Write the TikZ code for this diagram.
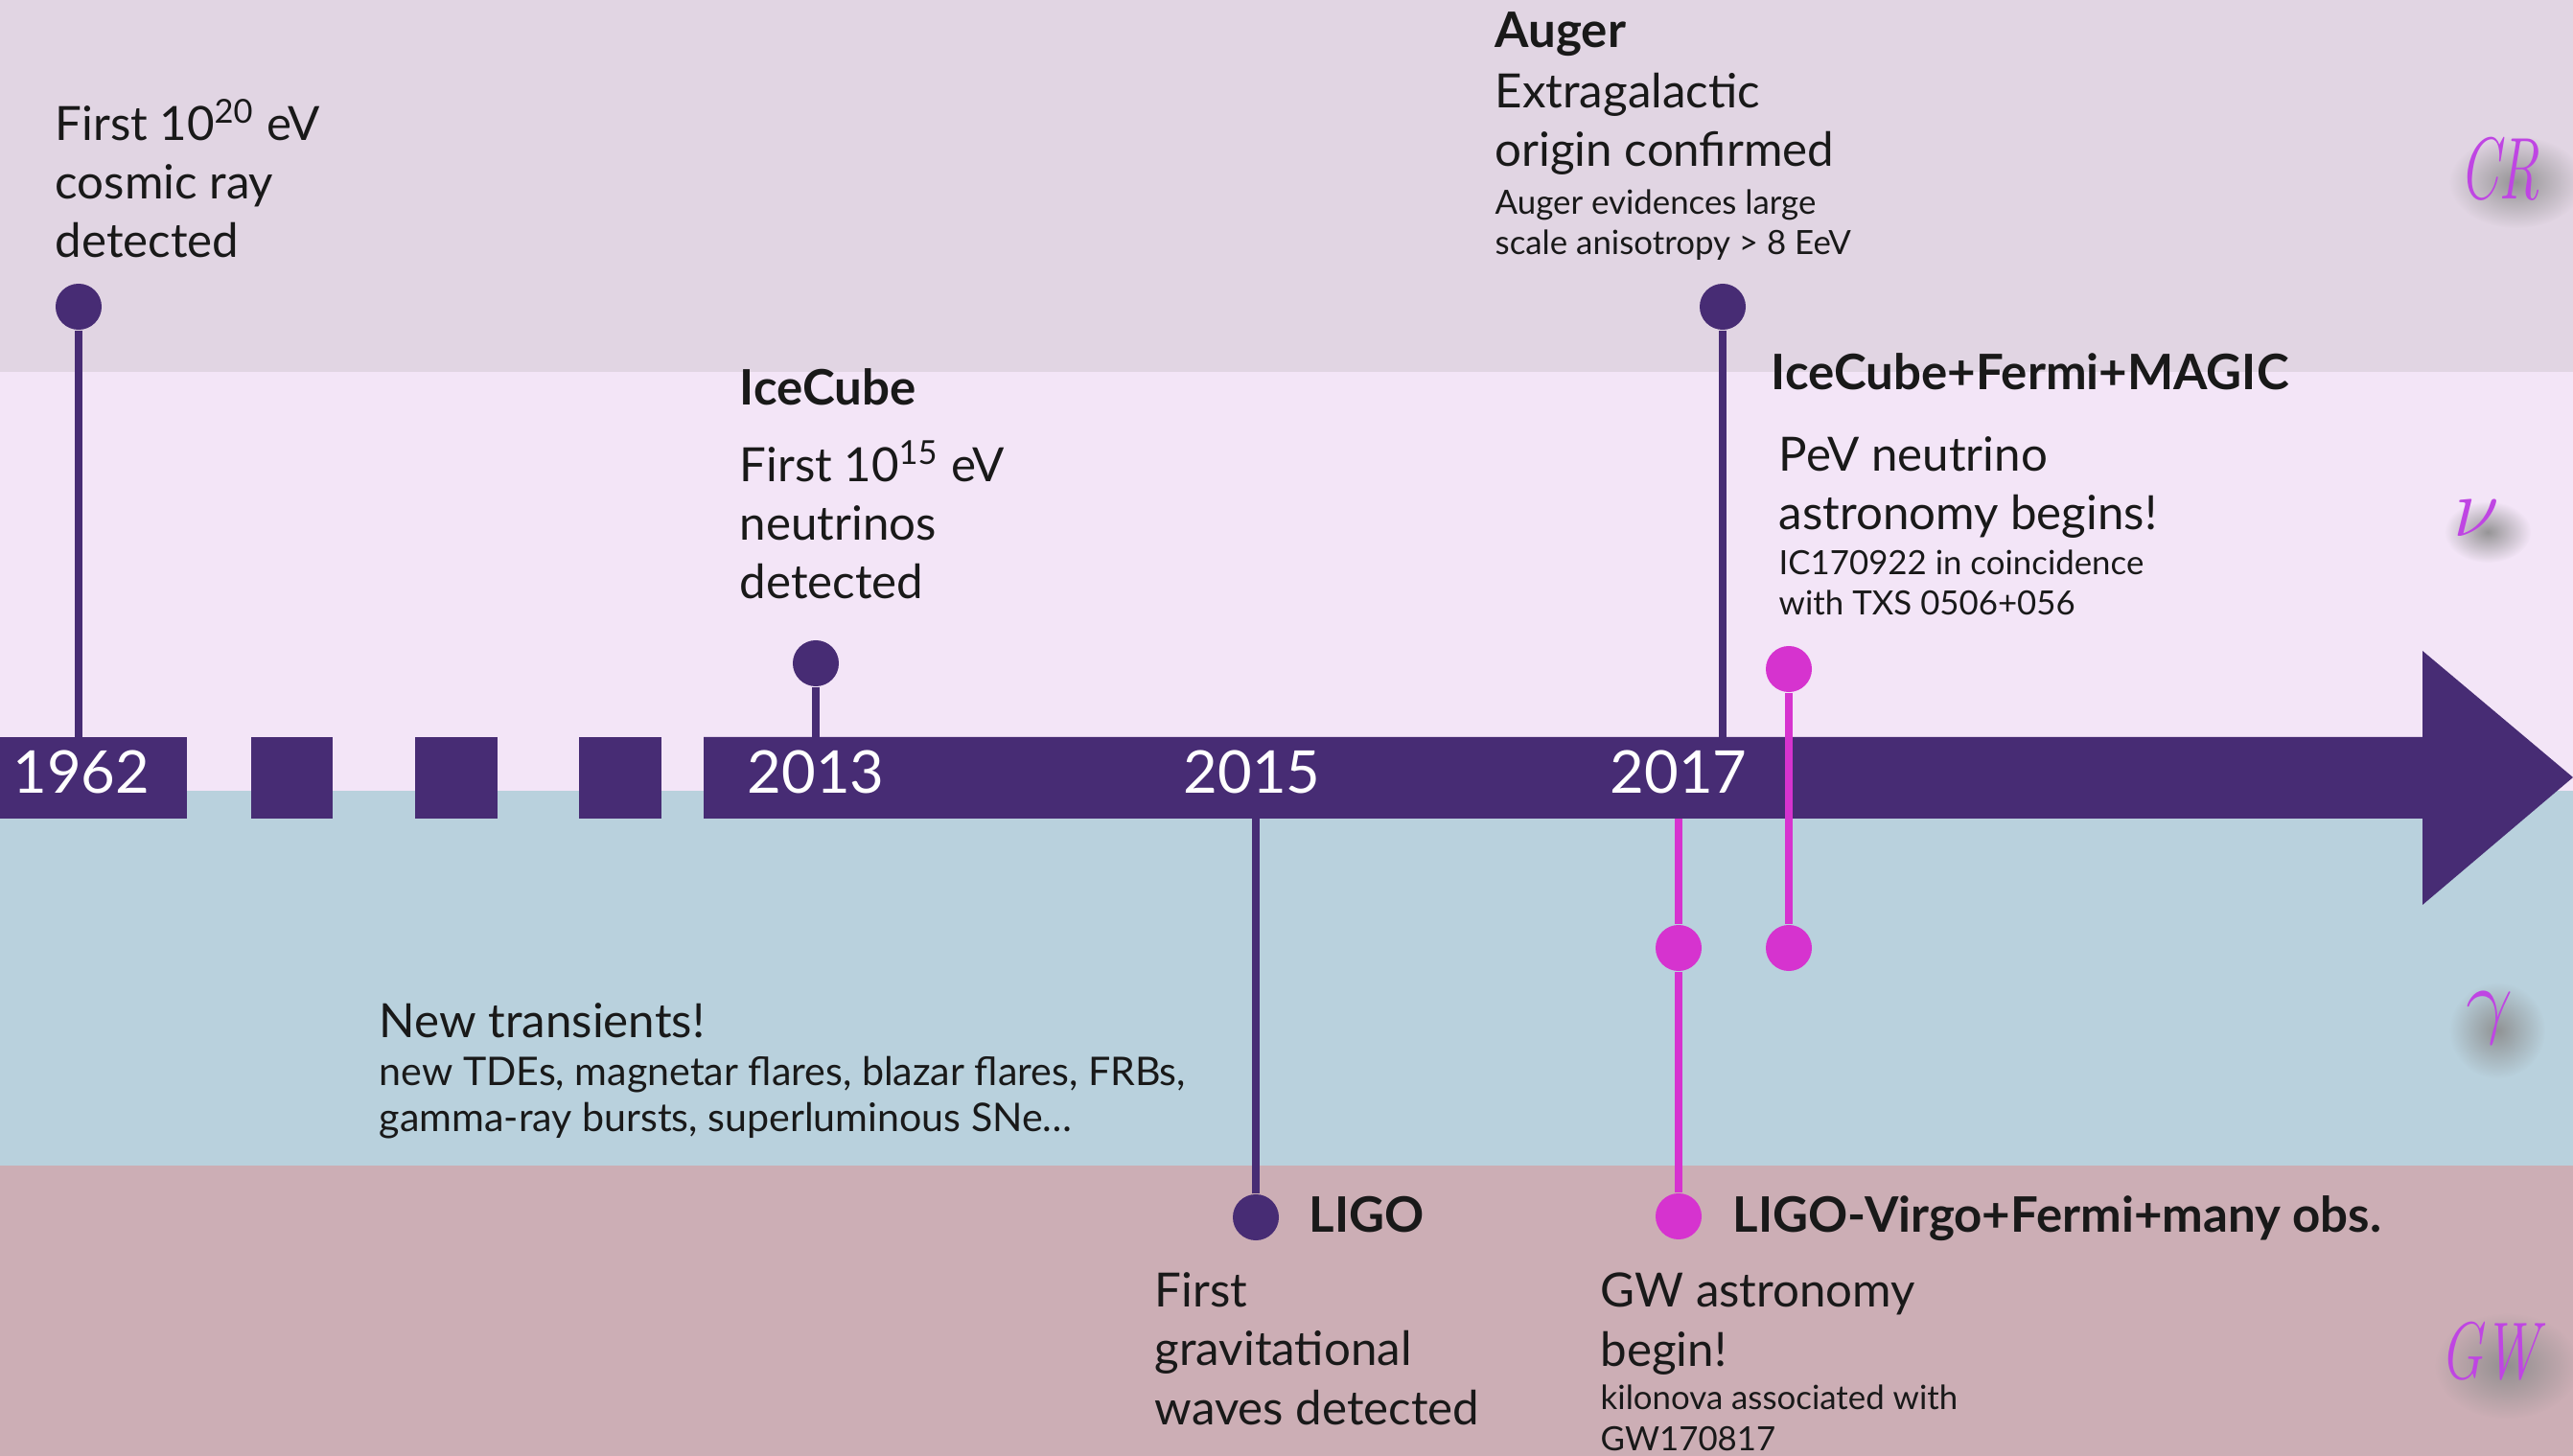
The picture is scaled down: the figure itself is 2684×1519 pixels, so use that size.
\documentclass[tikz,border=0pt]{standalone}
\usepackage{graphicx}
\usepackage{fontspec}
\setmainfont{Lato}
\newfontfamily\tagfont{Latin Modern Roman}
\usetikzlibrary{positioning,fadings}

\definecolor{crband}{HTML}{E1D5E3}
\definecolor{nuband}{HTML}{F3E5F7}
\definecolor{gaband}{HTML}{B9D1DD}
\definecolor{gwband}{HTML}{CCAEB5}
\definecolor{barpurple}{HTML}{472C74}
\definecolor{flaremag}{HTML}{D633CF}
\definecolor{tagpurple}{HTML}{BF45E3}

\tikzfading[name=softglow, inner color=transparent!10, outer color=transparent!100]

\tikzstyle{barbox}=[fill=barpurple]
\tikzstyle{stem}=[draw=barpurple,line width=2.3pt]
\tikzstyle{magstem}=[draw=flaremag,line width=2.3pt]
\tikzstyle{dot}=[circle,fill=barpurple,minimum size=0.48cm,inner sep=0pt]
\tikzstyle{magdot}=[dot,fill=flaremag]
\tikzstyle{year}=[anchor=base,text=white,inner sep=0pt,font=\fontsize{17.5}{20}\selectfont]
% multi-line nodes sit on the baseline of their last line
\tikzstyle{bigtext}=[anchor=base west,align=left,inner sep=0pt,text=black!90,font=\fontsize{14}{17.4}\selectfont]
\tikzstyle{smalltext}=[bigtext,font=\fontsize{9.9}{12.2}\selectfont]
\tikzstyle{title}=[bigtext,font=\bfseries\fontsize{14.5}{17.4}\selectfont]
\tikzstyle{tag}=[text=tagpurple,inner sep=0pt]
\tikzstyle{glow}=[fill=black!45,path fading=softglow]

\begin{document}
\begin{tikzpicture}[x=0.01cm,y=-0.01cm]
  \useasboundingbox (0,0) rectangle (2684,1519);
  \clip (0,0) rectangle (2684,1519);

  % messenger bands
  \foreach \ya / \yb / \col in {0/388/crband, 388/825/nuband,
                                825/1216/gaband, 1216/1519/gwband}
    \fill[\col] (0,\ya) rectangle (2684,\yb);

  % timeline bar with the gap in the years
  \fill[barbox] (0,769) rectangle (195,854);
  \foreach \xa / \xb in {262/347, 433/519, 604/690}
    \fill[barbox] (\xa,769) rectangle (\xb,854);
  \fill[barbox] (734,769) -- (2527,769) -- (2527,679) -- (2684,811)
    -- (2527,944) -- (2527,854) -- (734,854) -- cycle;

  \foreach \pos / \name / \yr in {85/y62/1962, 851/y13/2013,
                                  1306/y15/2015, 1751/y17/2017}
    \node[year] (\name) at (\pos,828) {\yr};

  % events
  \node[dot] (cr) at (82,320) {};
  \node[dot] (icecube) at (851,692) {};
  \node[dot] (auger) at (1797,320) {};
  \node[dot] (ligo) at (1310,1270) {};
  \node[magdot] (nuflare) at (1866,698) {};
  \node[magdot] (nugamma) at (1866,989) {};
  \node[magdot] (gwgamma) at (1751,989) {};
  \node[magdot] (gwmerger) at (1751,1269) {};

  \coordinate (crbar) at (82,769);
  \coordinate (icbar) at (851,769);
  \coordinate (augerbar) at (1797,769);
  \coordinate (ligobar) at (1310,854);
  \coordinate (gwbar) at (1751,854);

  \foreach \source / \dest in {cr/crbar, icecube/icbar, auger/augerbar, ligo/ligobar}
    \path[stem] (\source) -- (\dest);
  \foreach \source / \dest in {nuflare/nugamma, gwbar/gwgamma, gwgamma/gwmerger}
    \path[magstem] (\source) -- (\dest);

  % labels
  \node[bigtext] (crtxt) at (57,269) {First 10\textsuperscript{20} eV\\cosmic ray\\detected};

  \node[title] (ictitle) at (771,423) {IceCube};
  \node[bigtext] (ictxt) at (771,625) {First 10\textsuperscript{15} eV\\neutrinos\\detected};

  \node[title] (augertitle) at (1559,50) {Auger};
  \node[bigtext] (augertxt) at (1559,174) {Extragalactic\\origin confirmed};
  \node[smalltext] (augersub) at (1559,266) {Auger evidences large\\scale anisotropy > 8 EeV};

  \node[title] (txstitle) at (1847,407) {IceCube+Fermi+MAGIC};
  \node[bigtext] (txstxt) at (1855,553) {PeV neutrino\\astronomy begins!};
  \node[smalltext] (txssub) at (1855,642) {IC170922 in coincidence\\with TXS 0506+056};

  \node[bigtext] (trtxt) at (395,1082) {New transients!};
  \node[smalltext,font=\fontsize{11.7}{13.4}\selectfont] (trsub) at (395,1180)
    {new TDEs, magnetar flares, blazar flares, FRBs,\\gamma-ray bursts, superluminous SNe\dots};

  \node[title] (ligotitle) at (1365,1285) {LIGO};
  \node[bigtext] (ligotxt) at (1204,1486) {First\\gravitational\\waves detected};

  \node[title] (gwtitle) at (1807,1285) {LIGO-Virgo+Fermi+many obs.};
  \node[bigtext] (gwtxt) at (1669,1425) {GW astronomy\\begin!};
  \node[smalltext] (gwsub) at (1669,1513) {kilonova associated with\\GW170817};

  % messenger tags
  \foreach \pos / \rx / \ry in {{(2625,190)}/70/48, {(2595,555)}/45/32,
                                {(2605,1075)}/50/50, {(2615,1425)}/75/55}
    \fill[glow] \pos ellipse (\rx*0.01cm and \ry*0.01cm);
  \node[tag,font=\fontsize{26}{30}\selectfont] (tagcr) at (2607,176) {\scalebox{0.65}[1]{\tagfont\itshape CR}};
  \node[tag,font=\fontsize{28}{32}\selectfont] (tagnu) at (2583,541) {$\nu$};
  \node[tag,font=\fontsize{29}{34}\selectfont] (taggamma) at (2597,1062) {$\gamma$};
  \node[tag,font=\fontsize{24}{30}\selectfont] (taggw) at (2597,1410) {\scalebox{0.7}[1]{\tagfont\itshape GW}};
\end{tikzpicture}
\end{document}
